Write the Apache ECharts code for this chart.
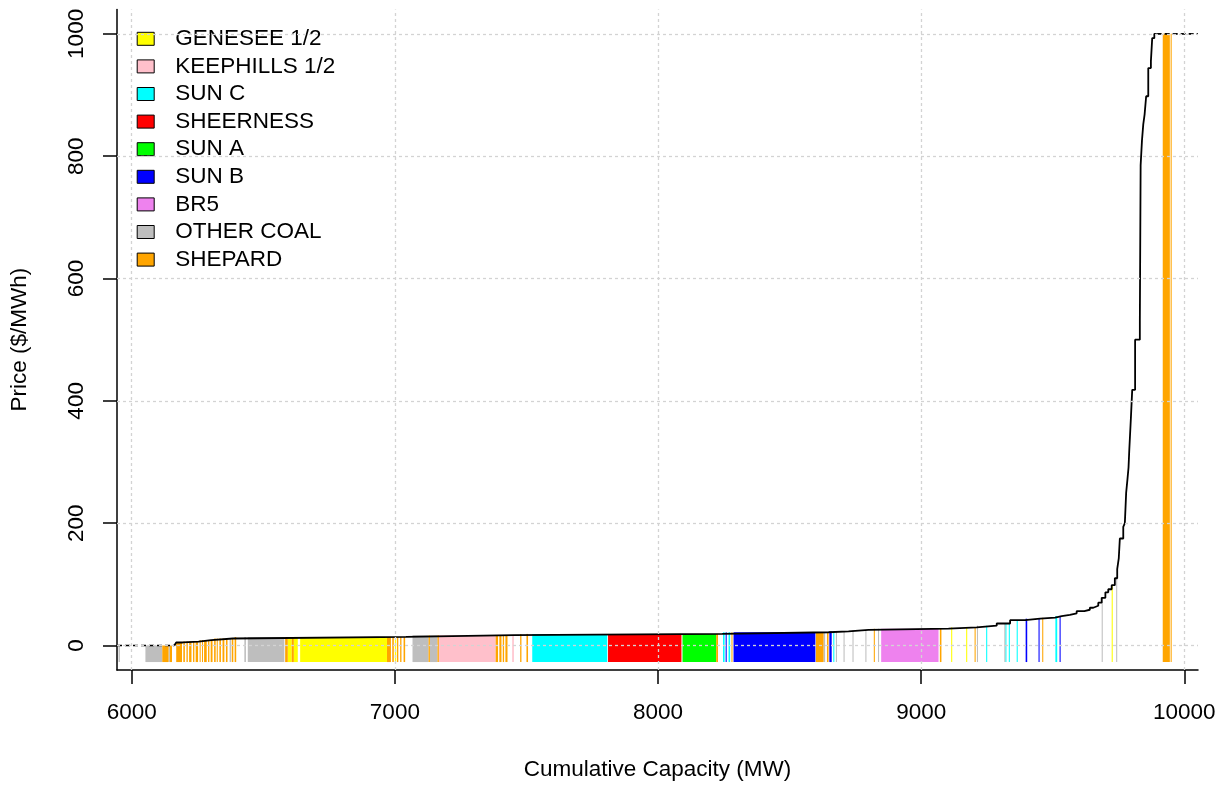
<!DOCTYPE html>
<html><head><meta charset="utf-8">
<script src="https://cdn.jsdelivr.net/npm/echarts@6/dist/echarts.min.js"></script>
<style>html,body{margin:0;padding:0;background:#fff}#c{width:1222px;height:786px}</style>
</head><body><div id="c"></div>
<script>
// ---------- data ----------
const xTicks = [6000, 7000, 8000, 9000, 10000];
const yTicks = [0, 200, 400, 600, 800, 1000];
const units = ['GENESEE 1/2','KEEPHILLS 1/2','SUN C','SHEERNESS','SUN A','SUN B','BR5','OTHER COAL','SHEPARD'];
const unitColors = ['#FFFF00','#FFC0CB','#00FFFF','#FF0000','#00FF00','#0000FF','#EE82EE','#BEBEBE','#FFA500'];

// offer blocks [start MW, end MW] per unit
const genesee = [[6593,6608],[6616,6631],[6640,6970],[7000,7005],[9114,9118],[9171,9175],[9724,9728]];
const keephills = [[7167,7383],[7446,7452]];
const sunC = [[7522,7807],[8247,8253],[8268,8274],[8666,8670],[9247,9251],[9320,9324],[9333,9337],[9363,9367],[9510,9517]];
const sheerness = [[7810,8089]];
const sunA = [[8093,8221]];
const sunB = [[8257,8261],[8287,8598],[8651,8660],[9397,9403],[9446,9450],[9526,9530]];
const br5 = [[8848,9066]];
const otherCoal = [[5950,5955],[6052,6116],[6140,6145],[6372,6377],[6428,6434],[6441,6580],[7067,7128],[7133,7162],
  [8629,8635],[8676,8680],[8705,8709],[8739,8743],[8788,8792],[8836,8840],[9212,9216],[9316,9319],[9686,9690],[9741,9745]];
const shepard = [[6116,6140],[6145,6153],[6169,6191],[6196,6202],[6208,6213],[6218,6227],[6233,6238],[6243,6252],
  [6258,6262],[6267,6270],[6275,6285],[6290,6295],[6300,6307],[6313,6319],[6323,6327],[6333,6339],[6345,6352],
  [6358,6364],[6380,6386],[6391,6397],[6583,6593],[6608,6616],[6970,6985],[6990,6996],[7008,7013],[7020,7025],
  [7033,7039],[7128,7133],[7162,7167],[7383,7392],[7397,7405],[7410,7415],[7420,7428],[7476,7481],[7500,7506],
  [8221,8228],[8279,8283],[8600,8629],[8642,8648],[8820,8824],[9071,9077],[9203,9207],[9460,9464],[9918,9945],[9948,9952]];
const unitBlocks = [genesee, keephills, sunC, sheerness, sunA, sunB, br5, otherCoal, shepard];

// merit-order step curve: price holds from each MW point to the next
const curveMW = [6162,6169,6194,6254,6302,6384,7042,7453,8244,8648,8724,8800,9104,9211,9287,9338,9395,9452,9509,9534,
  9565,9591,9620,9641,9654,9673,9686,9700,9711,9724,9736,9745,9751,9755,9768,9774,9779,9784,9788,9791,9797,9802,9813,
  9831,9834,9839,9844,9849,9855,9863,9873,9878,9886,9895];
const curvePrice = [0,5,6.5,9,11.5,14,17,19,21.7,23,25.5,27.6,29.8,32.5,36,41.5,43.9,45.5,48.2,50,
  52.6,56.4,58.5,61.8,65,70,78,87,92,98.7,110,125,143,175,194,200,250,272,291,321,372,418,500,
  530,785,825,852,868,898,944,955,993,1000,1000];

const BAR_FLOOR = -27;
const XMIN = 5944, XMAX = 10052, YMIN = -40, YMAX = 1040;

// ---------- chart ----------
function priceAt(mw) {
  let p = 0;
  for (let i = 0; i < curveMW.length; i++) { if (curveMW[i] <= mw) p = curvePrice[i]; else break; }
  return p;
}
const FONT = "'Liberation Sans', Arial, sans-serif";
const FS = 22.5;

const series = [];
unitBlocks.forEach((blocks, u) => {
  const color = unitColors[u];
  series.push({
    type: 'custom', name: units[u], z: 1, animation: false, silent: true,
    itemStyle: { color },
    encode: { x: [0, 1], y: [2, 3] },
    data: blocks.map(b => [b[0], b[1], priceAt(b[0]), BAR_FLOOR]),
    renderItem: function (params, api) {
      const p0 = api.coord([api.value(0), api.value(2)]);
      const p1 = api.coord([api.value(1), api.value(3)]);
      let w = p1[0] - p0[0]; if (w < 1) w = 1;
      return { type: 'rect', shape: { x: p0[0], y: p0[1], width: w, height: p1[1] - p0[1] }, style: { fill: color } };
    }
  });
});
// grid lines (R grid(): lightgray dotted) drawn over the bars
series.push({
  type: 'line', data: [], z: 2, silent: true,
  markLine: {
    silent: true, animation: false, symbol: ['none', 'none'], label: { show: false },
    lineStyle: { color: '#d3d3d3', type: [3, 3], width: 1.3 },
    data: xTicks.map(v => ({ xAxis: v })).concat(yTicks.map(v => ({ yAxis: v })))
  }
});
// step curve
series.push({
  type: 'line', step: 'end', z: 3, symbol: 'none', silent: true, animation: false,
  lineStyle: { color: '#000', width: 1.8 },
  data: curveMW.map((m, i) => [m, curvePrice[i]])
});
// dashed extensions
series.push({
  type: 'line', z: 3, symbol: 'none', silent: true, animation: false,
  lineStyle: { color: '#000', width: 1.6, type: [5, 3] },
  data: [[XMIN, curvePrice[0]], [curveMW[0], curvePrice[0]]]
});
series.push({
  type: 'line', z: 3, symbol: 'none', silent: true, animation: false,
  lineStyle: { color: '#000', width: 1.6, type: [5, 3] },
  data: [[curveMW[curveMW.length - 1], curvePrice[curvePrice.length - 1]], [XMAX, curvePrice[curvePrice.length - 1]]]
});

const plain = v => String(v);
const chart = echarts.init(document.getElementById('c'), null, { renderer: 'canvas' });
chart.setOption({
  animation: false,
  backgroundColor: '#fff',
  grid: { left: 115.7, right: 24, top: 9.4, bottom: 112.7, containLabel: false },
  legend: {
    orient: 'vertical', left: 136.7, top: 27.3, padding: 0,
    itemWidth: 17, itemHeight: 13, itemGap: 4.6, icon: 'rect', selectedMode: false,
    itemStyle: { borderColor: '#000', borderWidth: 1 },
    textStyle: { fontSize: FS, color: '#000', fontFamily: FONT, lineHeight: 22, padding: [0, 0, 0, 16] },
    data: units
  },
  xAxis: {
    type: 'value', min: XMIN, max: XMAX,
    name: 'Cumulative Capacity (MW)', nameLocation: 'middle', nameGap: 88,
    nameTextStyle: { fontSize: FS, color: '#000', fontFamily: FONT },
    axisLine: { show: true, onZero: false, lineStyle: { color: '#000', width: 1.5 } },
    axisTick: { show: true, customValues: xTicks, length: 14, lineStyle: { color: '#000', width: 1.5 } },
    axisLabel: { customValues: xTicks, formatter: plain, fontSize: FS, color: '#000', fontFamily: FONT, margin: 31, showMinLabel: true, showMaxLabel: true },
    splitLine: { show: false }
  },
  yAxis: {
    type: 'value', min: YMIN, max: YMAX,
    name: 'Price ($/MWh)', nameLocation: 'middle', nameGap: 86, nameRotate: 90,
    nameTextStyle: { fontSize: FS, color: '#000', fontFamily: FONT },
    axisLine: { show: true, onZero: false, lineStyle: { color: '#000', width: 1.5 } },
    axisTick: { show: true, customValues: yTicks, length: 14, lineStyle: { color: '#000', width: 1.5 } },
    axisLabel: { customValues: yTicks, formatter: plain, rotate: 90, fontSize: FS, color: '#000', fontFamily: FONT, margin: 29 },
    splitLine: { show: false }
  },
  series: series
});
</script>
</body></html>
